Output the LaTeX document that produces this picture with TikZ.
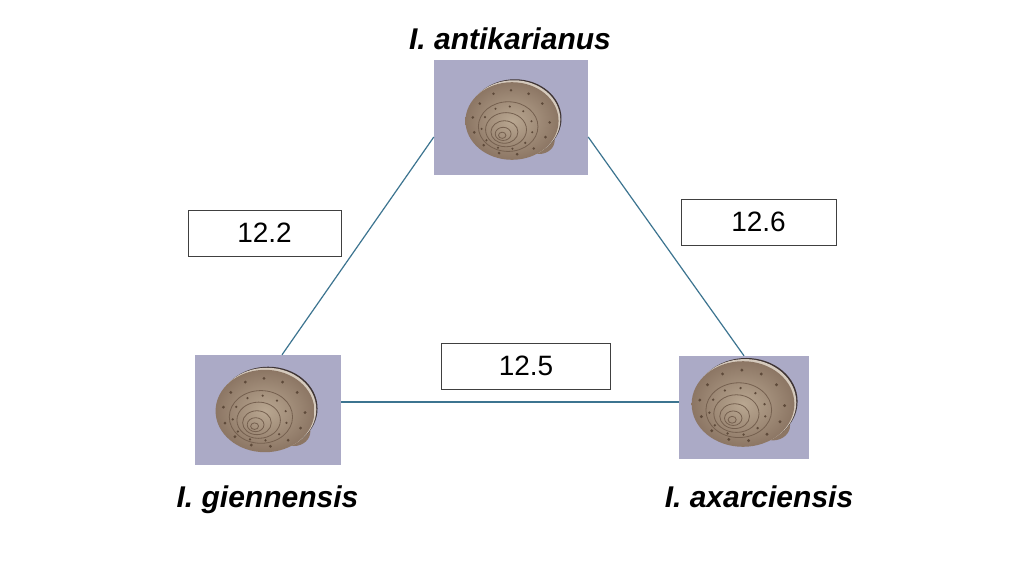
\documentclass[tikz,border=0pt]{standalone}
\usepackage{fontspec}
\setmainfont{Liberation Sans}
\definecolor{photobg}{HTML}{ABAAC6}
\definecolor{edgecol}{HTML}{3C7490}
\definecolor{boxcol}{HTML}{404040}
\definecolor{shellL}{HTML}{B9A791}
\definecolor{shellD}{HTML}{8C7664}
\definecolor{rimcol}{HTML}{3E3434}
\definecolor{whorlcol}{HTML}{75604F}
\definecolor{spotcol}{HTML}{5E4A3A}
\tikzset{
  photo/.style={fill=photobg, draw=none, inner sep=0pt},
  edge/.style={draw=edgecol, line width=1.2pt},
  valbox/.style={draw=boxcol, line width=0.9pt, fill=white, inner sep=0pt,
    font=\fontsize{28}{34}\selectfont},
  species/.style={font=\fontsize{30}{36}\selectfont\bfseries\itshape, anchor=base, inner sep=0pt},
  whorl/.style={draw=whorlcol, line width=0.8pt},
  shell/.pic={
    \fill[shellD] (28,20) ellipse [x radius=16, y radius=14];
    \fill[rimcol] (3,-2.5) ellipse [x radius=48, y radius=40.5];
    \fill[shellL!60!white] (1.8,-1.5) ellipse [x radius=48, y radius=40.5];
    \shade[inner color=shellL, outer color=shellD] (0,0) ellipse [x radius=48, y radius=40];
    \foreach \s in {0.64,0.44,0.29,0.17,0.08}
      \draw[whorl] ({(1-\s)*(-11)},{(1-\s)*16}) ellipse [x radius={\s*48}, y radius={\s*40}];
    \foreach \a in {0,27,...,350}
      \fill[spotcol] ({-1+0.83*48*cos(\a)},{1.5+0.83*40*sin(\a)}) circle (1.5);
    \foreach \a in {12,45,...,350}
      \fill[spotcol] ({-5+0.55*48*cos(\a)},{7+0.55*40*sin(\a)}) circle (1.2);
  }
}
\begin{document}
\begin{tikzpicture}[x=1pt,y=-1pt]
\useasboundingbox (0,0) rectangle (1024,576);
\fill[white] (0,0) rectangle (1024,576);

% photos
\node[photo, minimum width=154pt, minimum height=115pt] (top) at (511,117.5) {};
\node[photo, minimum width=146pt, minimum height=110pt] (left) at (268,410) {};
\node[photo, minimum width=130pt, minimum height=103pt] (right) at (744,407.5) {};
\pic[scale=0.97] at (512,121) {shell};
\pic[scale=1.03] at (265,411) {shell};
\pic[scale=1.07] at (743,404) {shell};

% labels
\node[species] (ltop) at (510,49) {I. antikarianus};
\node[species] (lleft) at (267.5,507) {I. giennensis};
\node[species] (lright) at (759,507) {I. axarciensis};

% connectors
\draw[edge] ([yshift=-19.5pt]top.west) -- ([xshift=14pt]left.north);
\draw[edge] ([yshift=-19.5pt]top.east) -- (right.north);
\draw[edge] ([yshift=8pt]left.east) -- ([yshift=5.5pt]right.west);

% values
\node[valbox, minimum width=153pt, minimum height=46pt] (v1) at (264.5,233) {12.2};
\node[valbox, minimum width=155pt, minimum height=46pt] (v2) at (758.5,222) {12.6};
\node[valbox, minimum width=169pt, minimum height=46pt] (v3) at (526,366) {12.5};
\end{tikzpicture}
\end{document}
